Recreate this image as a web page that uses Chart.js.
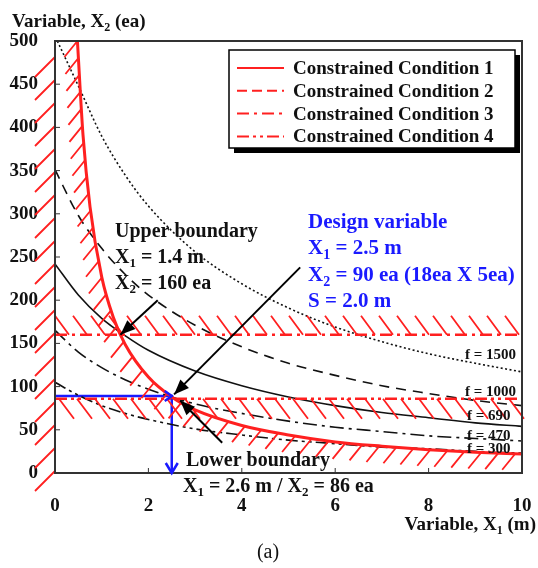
<!DOCTYPE html>
<html>
<head>
<meta charset="utf-8">
<script src="https://cdn.jsdelivr.net/npm/chart.js@4.4.0/dist/chart.umd.min.js"></script>
<style>
  html, body { margin: 0; padding: 0; background: #fff; }
  canvas { display: block; }
</style>
</head>
<body>
<canvas id="chart" width="538" height="568"></canvas>
<script>
// values
const fX = [0, 0.5, 1, 1.5, 2, 3, 4, 5, 6, 7, 8, 9, 10];
const f1500X = [0.05, 0.5, 1, 1.5, 2, 3, 4, 5, 6, 7, 8, 9, 10];
const f1500 = [500, 448, 390, 345, 309, 256, 219, 191, 169, 152, 138, 127, 117];
const f1000 = [351, 298, 260, 230, 206, 171, 146, 127, 113, 101, 92, 84, 78];
const f690 = [242, 206, 179, 159, 142, 118, 101, 88, 78, 70, 64, 58, 54];
const f470 = [165, 140, 122, 108, 97, 80, 69, 60, 53, 48, 43, 40, 37];
const f300 = [105, 90, 78, 69, 62, 51, 44, 38, 34, 30, 28, 25, 23];

// constraint 1 : curved boundary
const cond1X = [0.48, 0.6, 0.75, 1, 1.25, 1.5, 2, 2.5, 3, 4, 5, 6, 7, 8, 9, 10];
const cond1Y = [500, 391, 308, 227, 180, 149, 111, 88, 73, 55, 44, 36, 31, 27, 24, 22];
// constraint 2 : X1 >= 0, constraint 3 : X2 <= 160, constraint 4 : X2 >= 86
const cond2X = [0, 0];
const cond2Y = [0, 500];
const cond3X = [0, 10];
const cond3Y = [160, 160];
const cond4X = [0, 10];
const cond4Y = [86, 86];

// chosen design point
const designX = [0, 2.5, 2.5];
const designY = [89, 89, 0];

const xTicks = [0, 2, 4, 6, 8, 10];
const yTicks = [0, 50, 100, 150, 200, 250, 300, 350, 400, 450, 500];

const RED = '#ff2020';
const BLUE = '#1a1aff';
const SERIF = '"Liberation Serif", "DejaVu Serif", serif';

const pts = (xs, ys) => xs.map((x, i) => ({ x: x, y: ys[i] }));

function fLine(xs, ys, dash) {
  return {
    data: pts(xs, ys), borderColor: '#111', borderWidth: 1.6, borderDash: dash,
    showLine: true, pointRadius: 0, cubicInterpolationMode: 'monotone'
  };
}

const datasets = [
  { label: 'Constrained Condition 1', data: pts(cond1X, cond1Y), borderColor: RED, borderWidth: 3,
    showLine: true, pointRadius: 0, cubicInterpolationMode: 'monotone', borderDash: [],
    hatch: { dx: -13, dy: 16, step: 17 } },
  { label: 'Constrained Condition 2', data: pts(cond2X, cond2Y), borderColor: RED, borderWidth: 2,
    showLine: true, pointRadius: 0, borderDash: [10, 5],
    hatch: { dx: -20, dy: 20, step: 23, offset: 2 } },
  { label: 'Constrained Condition 3', data: pts(cond3X, cond3Y), borderColor: RED, borderWidth: 2.5,
    showLine: true, pointRadius: 0, borderDash: [12, 5, 3, 5],
    hatch: { dx: -14, dy: -19, step: 18, offset: 14 } },
  { label: 'Constrained Condition 4', data: pts(cond4X, cond4Y), borderColor: RED, borderWidth: 2.5,
    showLine: true, pointRadius: 0, borderDash: [12, 4, 3, 4, 3, 4],
    hatch: { dx: 15, dy: 20, step: 18, offset: 4 } },
  fLine(f1500X, f1500, [2, 2.5]),
  fLine(fX, f1000, [10, 7]),
  fLine(fX, f690, []),
  fLine(fX, f470, [14, 5, 3, 5]),
  fLine(fX, f300, [12, 4, 3, 4, 3, 4]),
  { data: pts(designX, designY), borderColor: BLUE, borderWidth: 2.5, showLine: true,
    pointRadius: 0, tension: 0 }
];

// arrows: tail -> tip in data units
const arrows = [
  { from: [2.2, 200], to: [1.4, 160] },
  { from: [5.25, 238], to: [2.55, 91] },
  { from: [3.58, 35], to: [2.68, 84] }
];

const fLabels = [
  { text: 'f = 1500', x: 465, y: 359 },
  { text: 'f = 1000', x: 465, y: 396 },
  { text: 'f = 690', x: 467, y: 420 },
  { text: 'f = 470', x: 467, y: 440 },
  { text: 'f = 300', x: 467, y: 453 }
];

// rich text: parts are [string, isSubscript]
function rich(ctx, parts, x, y, size, color) {
  ctx.fillStyle = color;
  ctx.textBaseline = 'alphabetic';
  ctx.textAlign = 'left';
  let cx = x;
  parts.forEach(p => {
    const sub = p[1];
    ctx.font = 'bold ' + (sub ? Math.round(size * 0.65) : size) + 'px ' + SERIF;
    ctx.fillText(p[0], cx, y + (sub ? size * 0.22 : 0));
    cx += ctx.measureText(p[0]).width;
  });
  return cx - x;
}
function richWidth(ctx, parts, size) {
  let w = 0;
  parts.forEach(p => {
    ctx.font = 'bold ' + (p[1] ? Math.round(size * 0.65) : size) + 'px ' + SERIF;
    w += ctx.measureText(p[0]).width;
  });
  return w;
}

function hatchAlong(ctx, path, spec) {
  let carry = spec.offset || 0;
  ctx.beginPath();
  for (let i = 1; i < path.length; i++) {
    const a = path[i - 1], b = path[i];
    const len = Math.hypot(b.x - a.x, b.y - a.y);
    let d = carry;
    while (d <= len) {
      const px = a.x + (b.x - a.x) * d / len;
      const py = a.y + (b.y - a.y) * d / len;
      ctx.moveTo(px, py);
      ctx.lineTo(px + spec.dx, py + spec.dy);
      d += spec.step;
    }
    carry = d - len;
  }
  ctx.stroke();
}

function arrowHead(ctx, x1, y1, x2, y2, len, half, filled) {
  const ang = Math.atan2(y2 - y1, x2 - x1);
  const bx = x2 - Math.cos(ang) * len, by = y2 - Math.sin(ang) * len;
  const nx = -Math.sin(ang) * half, ny = Math.cos(ang) * half;
  ctx.beginPath();
  ctx.moveTo(bx + nx, by + ny);
  ctx.lineTo(x2, y2);
  ctx.lineTo(bx - nx, by - ny);
  if (filled) { ctx.closePath(); ctx.fill(); } else { ctx.stroke(); }
}

const decor = {
  id: 'decor',
  afterDatasetsDraw(chart) {
    const ctx = chart.ctx;
    const xs = chart.scales.x, ys = chart.scales.y;
    const area = chart.chartArea;

    // hatching on the infeasible side of each constraint
    ctx.save();
    ctx.strokeStyle = RED;
    ctx.lineWidth = 1.8;
    chart.data.datasets.forEach((ds, i) => {
      if (!ds.hatch) return;
      const path = chart.getDatasetMeta(i).data.map(e => ({ x: e.x, y: e.y }));
      hatchAlong(ctx, path, ds.hatch);
    });
    ctx.restore();

    // frame and inward ticks
    ctx.save();
    ctx.strokeStyle = '#333';
    ctx.lineWidth = 2;
    ctx.strokeRect(area.left, area.top, area.right - area.left, area.bottom - area.top);
    ctx.lineWidth = 1;
    yTicks.forEach(v => {
      const py = ys.getPixelForValue(v);
      ctx.beginPath(); ctx.moveTo(area.left, py); ctx.lineTo(area.left + 5, py); ctx.stroke();
    });
    xTicks.forEach(v => {
      const px = xs.getPixelForValue(v);
      ctx.beginPath(); ctx.moveTo(px, area.bottom); ctx.lineTo(px, area.bottom - 5); ctx.stroke();
    });
    ctx.restore();

    // blue design point arrows
    ctx.save();
    ctx.strokeStyle = BLUE;
    ctx.lineWidth = 2.5;
    const dp = chart.getDatasetMeta(chart.data.datasets.length - 1).data;
    arrowHead(ctx, dp[1].x, dp[1].y, dp[2].x, dp[2].y, 10, 6, false);
    arrowHead(ctx, dp[0].x, dp[0].y, dp[1].x, dp[1].y, 7, 5, false);
    ctx.restore();

    // black pointer arrows
    ctx.save();
    ctx.strokeStyle = '#000';
    ctx.fillStyle = '#000';
    ctx.lineWidth = 2;
    arrows.forEach(a => {
      const x1 = xs.getPixelForValue(a.from[0]), y1 = ys.getPixelForValue(a.from[1]);
      const x2 = xs.getPixelForValue(a.to[0]), y2 = ys.getPixelForValue(a.to[1]);
      ctx.beginPath(); ctx.moveTo(x1, y1); ctx.lineTo(x2, y2); ctx.stroke();
      arrowHead(ctx, x1, y1, x2, y2, 15, 6, true);
    });
    ctx.restore();

    // f labels
    ctx.save();
    ctx.fillStyle = '#111';
    ctx.font = 'bold 15px ' + SERIF;
    ctx.textBaseline = 'alphabetic';
    fLabels.forEach(l => ctx.fillText(l.text, l.x, l.y));
    ctx.restore();

    // annotations
    ctx.save();
    rich(ctx, [['Upper boundary', 0]], 115, 237, 20, '#111');
    rich(ctx, [['X', 0], ['1', 1], [' = 1.4 m', 0]], 115, 263, 20, '#111');
    rich(ctx, [['X', 0], ['2', 1], [' = 160 ea', 0]], 115, 289, 20, '#111');
    rich(ctx, [['Lower boundary', 0]], 186, 466, 20, '#111');
    rich(ctx, [['X', 0], ['1', 1], [' = 2.6 m / X', 0], ['2', 1], [' = 86 ea', 0]], 183, 492, 20, '#111');
    rich(ctx, [['Design variable', 0]], 308, 228, 21, BLUE);
    rich(ctx, [['X', 0], ['1', 1], [' = 2.5 m', 0]], 308, 254, 21, BLUE);
    rich(ctx, [['X', 0], ['2', 1], [' = 90 ea (18ea X 5ea)', 0]], 308, 281, 21, BLUE);
    rich(ctx, [['S = 2.0 m', 0]], 308, 307, 21, BLUE);

    // axis titles
    rich(ctx, [['Variable, X', 0], ['2', 1], [' (ea)', 0]], 12, 27, 19, '#111');
    const xt = [['Variable, X', 0], ['1', 1], [' (m)', 0]];
    rich(ctx, xt, 536 - richWidth(ctx, xt, 19), 530, 19, '#111');
    ctx.fillStyle = '#111';
    ctx.font = '20px ' + SERIF;
    ctx.textAlign = 'center';
    ctx.fillText('(a)', 268, 558);
    ctx.restore();

    // legend box with shadow
    ctx.save();
    const L = 229, T = 50, W = 286, H = 98;
    ctx.fillStyle = '#000';
    ctx.fillRect(L + 5, T + 5, W, H);
    ctx.fillStyle = '#fff';
    ctx.fillRect(L, T, W, H);
    ctx.strokeStyle = '#000';
    ctx.lineWidth = 1.5;
    ctx.strokeRect(L, T, W, H);
    chart.data.datasets.forEach((ds, i) => {
      if (!ds.label) return;
      const cy = T + 18 + i * 22.8;
      ctx.strokeStyle = ds.borderColor;
      ctx.lineWidth = 2;
      ctx.setLineDash(ds.borderDash || []);
      ctx.beginPath(); ctx.moveTo(237, cy); ctx.lineTo(284, cy); ctx.stroke();
      ctx.setLineDash([]);
      ctx.fillStyle = '#111';
      ctx.font = 'bold 19px ' + SERIF;
      ctx.textBaseline = 'middle';
      ctx.fillText(ds.label, 293, cy + 1);
    });
    ctx.restore();
  }
};

const ctx = document.getElementById('chart').getContext('2d');
const chart = new Chart(ctx, {
  type: 'scatter',
  data: { datasets: datasets },
  options: {
    responsive: false,
    animation: false,
    layout: { padding: { top: 41, right: 16, left: 0, bottom: 0 } },
    plugins: { legend: { display: false }, tooltip: { enabled: false } },
    scales: {
      x: {
        type: 'linear', min: 0, max: 10,
        afterFit: s => { s.height = 95; s.paddingLeft = 0; s.paddingRight = 0; },
        afterBuildTicks: s => { s.ticks = xTicks.map(v => ({ value: v })); },
        grid: { display: false, drawTicks: false },
        border: { display: false },
        ticks: { padding: 22, color: '#111', font: { family: SERIF, weight: 'bold', size: 19 } }
      },
      y: {
        min: 0, max: 500,
        afterFit: s => { s.width = 55; s.paddingTop = 0; s.paddingBottom = 0; },
        afterBuildTicks: s => { s.ticks = yTicks.map(v => ({ value: v })); },
        grid: { display: false, drawTicks: false },
        border: { display: false },
        ticks: { padding: 17, color: '#111', font: { family: SERIF, weight: 'bold', size: 19 } }
      }
    }
  },
  plugins: [decor]
});
</script>
</body>
</html>
